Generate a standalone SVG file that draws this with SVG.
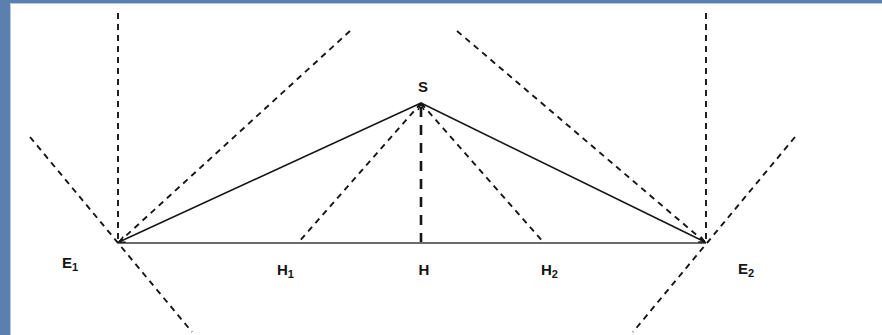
<svg xmlns="http://www.w3.org/2000/svg" width="882" height="335" viewBox="0 0 882 335">
<style>
.lbl{font-family:"Liberation Sans",Arial,sans-serif;font-weight:bold;font-size:15px;fill:#151515}
.sub{font-size:11px}
.dash{stroke:#151515;stroke-width:1.9;stroke-dasharray:6 5;fill:none}
.solid{stroke:#151515;stroke-width:1.5;fill:none}
</style>
<defs>
<marker id="arr" viewBox="0 0 8 8" refX="7" refY="4" markerWidth="8" markerHeight="8" markerUnits="userSpaceOnUse" orient="auto">
<path d="M1,1 L7,4 L1,7" fill="none" stroke="#151515" stroke-width="1.5"/>
</marker>
</defs>
<rect width="882" height="335" fill="#ffffff"/>
<rect x="0" y="0" width="882" height="3" fill="#5b7fae"/>
<rect x="0" y="3" width="882" height="1" fill="#b6c8de"/>
<rect x="0" y="0" width="10" height="335" fill="#5b7fae"/>
<rect x="10" y="4" width="1" height="331" fill="#b6c8de"/>
<g id="connectors">
<line class="dash" x1="118" y1="13" x2="118" y2="243"/>
<line class="dash" x1="706" y1="13" x2="706" y2="243"/>
<line class="dash" x1="350" y1="31" x2="118" y2="243"/>
<line class="dash" x1="457" y1="31" x2="706" y2="243"/>
<line class="dash" x1="30" y1="137" x2="192" y2="332"/>
<line class="dash" x1="795" y1="137" x2="633" y2="332"/>
<line class="dash" x1="421" y1="103" x2="298" y2="243"/>
<line class="dash" x1="421" y1="103" x2="544" y2="243"/>
<line x1="421" y1="243" x2="421" y2="104" stroke="#151515" stroke-width="2.6" stroke-dasharray="10 8" marker-end="url(#arr)"/>
<line x1="118" y1="243" x2="706" y2="243" stroke="#6a6a6a" stroke-width="2.2"/>
<line class="solid" x1="421" y1="103" x2="119" y2="242" marker-end="url(#arr)"/>
<line class="solid" x1="421" y1="103" x2="705" y2="242" marker-end="url(#arr)"/>
</g>
<g id="S"><text class="lbl" x="423" y="92" text-anchor="middle">S</text></g>
<g id="E1"><text class="lbl" x="62" y="268">E<tspan class="sub" dy="3">1</tspan></text></g>
<g id="H1"><text class="lbl" x="277" y="275">H<tspan class="sub" dy="3">1</tspan></text></g>
<g id="H"><text class="lbl" x="424" y="275" text-anchor="middle">H</text></g>
<g id="H2"><text class="lbl" x="541" y="275">H<tspan class="sub" dy="3">2</tspan></text></g>
<g id="E2"><text class="lbl" x="738" y="274">E<tspan class="sub" dy="3">2</tspan></text></g>
</svg>
